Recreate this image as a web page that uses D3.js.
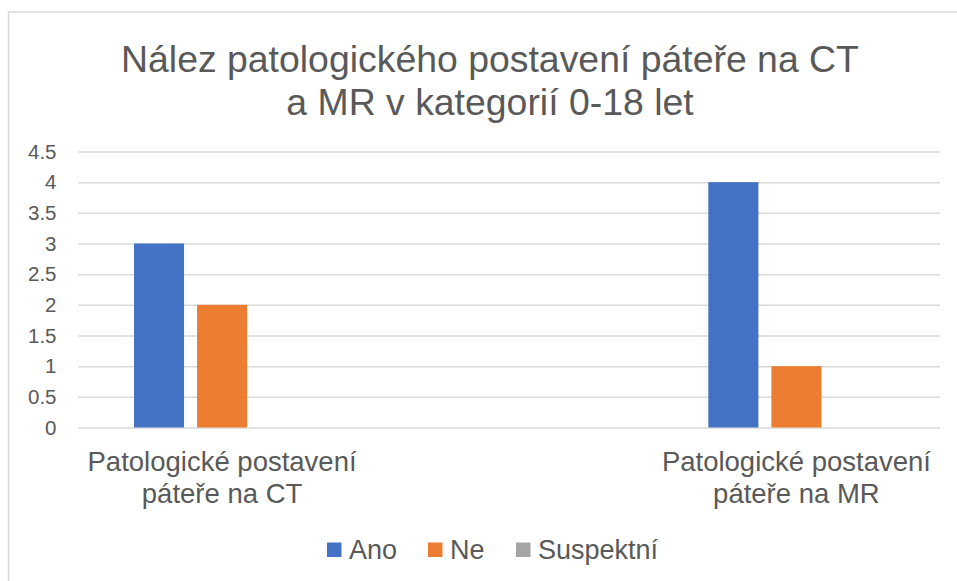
<!DOCTYPE html>
<html>
<head>
<meta charset="utf-8">
<script src="https://cdn.jsdelivr.net/npm/d3@7"></script>
<style>
	body { margin: 0; background: #fff; }
	svg { display: block; font-family: "Liberation Sans", Arial, sans-serif; }
</style>
</head>
<body>
<div id="chart"></div>
<script>
// Chart data
var titleLines = ["Nález patologického postavení páteře na CT", "a MR v kategorií 0-18 let"];
// middle category is blank in the original chart
var categories = ["Patologické postavení páteře na CT", "", "Patologické postavení páteře na MR"];
var seriesNames = ["Ano", "Ne", "Suspektní"];
var ano = [3, null, 4];
var ne = [2, null, 1];
var suspektni = [0, null, 0];
var yTicks = [0, 0.5, 1, 1.5, 2, 2.5, 3, 3.5, 4, 4.5];
var colors = ["#4472c4", "#ed7d31", "#a5a5a5"];

var width = 957, height = 581;
var margin = {top: 151.5, right: 17, bottom: 153.5, left: 78.5};
var chartWidth = width - margin.left - margin.right;
var chartHeight = height - margin.top - margin.bottom;

var svg = d3.select("#chart").append("svg")
	.attr("width", width)
	.attr("height", height);

svg.append("rect")
	.attr("x", 8.5).attr("y", 12)
	.attr("width", width).attr("height", height)
	.attr("fill", "#fff")
	.attr("stroke", "#d9d9d9")
	.attr("stroke-width", 1.5);

// Title
svg.append("text")
	.attr("x", 490)
	.attr("y", 72)
	.attr("text-anchor", "middle")
	.attr("fill", "#595959")
	.style("font-size", "37.4px")
	.selectAll("tspan")
	.data(titleLines)
	.join("tspan")
	.attr("x", 490)
	.attr("dy", (d, i) => i ? 43 : 0)
	.text(d => d);

var g = svg.append("g")
	.attr("transform", "translate(" + margin.left + "," + margin.top + ")");

var x0 = d3.scaleBand().domain(d3.range(categories.length)).range([0, chartWidth]);
var x1 = d3.scaleBand().domain(seriesNames)
	.range([0, x0.bandwidth()])
	.paddingInner(0.206)
	.paddingOuter(0.88);
var y = d3.scaleLinear().domain([0, 4.5]).range([chartHeight, 0]);

// Gridlines + y labels
var yAxis = d3.axisLeft(y).tickValues(yTicks).tickSize(-chartWidth).tickPadding(22).tickFormat(d3.format("~g"));
g.append("g")
	.call(yAxis)
	.call(s => s.select(".domain").remove())
	.call(s => s.selectAll("line").attr("stroke", "#d9d9d9").attr("stroke-width", 1.5))
	.call(s => s.selectAll("text").attr("fill", "#595959").style("font-size", "20.5px").style("font-family", "Liberation Sans, Arial, sans-serif"));

// Bars
var seriesValues = [ano, ne, suspektni];
var barData = [];
categories.forEach(function(c, ci) {
	seriesNames.forEach(function(s, si) {
		var v = seriesValues[si][ci];
		if (v !== null) barData.push({cat: ci, series: s, value: v, color: colors[si]});
	});
});

g.selectAll("rect.bar")
	.data(barData)
	.join("rect")
	.attr("class", "bar")
	.attr("x", d => x0(d.cat) + x1(d.series))
	.attr("y", d => y(d.value))
	.attr("width", x1.bandwidth())
	.attr("height", d => chartHeight - y(d.value))
	.attr("fill", d => d.color);

// Category labels (two lines each)
var catLabelLines = [["Patologické postavení", "páteře na CT"], [], ["Patologické postavení", "páteře na MR"]];
var catLabels = g.append("g").selectAll("text")
	.data(categories)
	.join("text")
	.attr("text-anchor", "middle")
	.attr("fill", "#595959")
	.style("font-size", "27.5px")
	.attr("y", chartHeight + 43);
catLabels.each(function(d, i) {
	d3.select(this).selectAll("tspan")
		.data(catLabelLines[i])
		.join("tspan")
		.attr("x", x0(i) + x0.bandwidth() / 2)
		.attr("dy", (t, j) => j ? 32 : 0)
		.text(t => t);
});

// Legend
var legendX = [327, 428, 516];
var legend = svg.append("g").selectAll("g")
	.data(seriesNames)
	.join("g")
	.attr("transform", (d, i) => "translate(" + legendX[i] + ",542.5)");
legend.append("rect")
	.attr("width", 14.5).attr("height", 14.5)
	.attr("fill", (d, i) => colors[i]);
legend.append("text")
	.attr("x", 22).attr("y", 16)
	.attr("fill", "#595959")
	.style("font-size", "27px")
	.text(d => d);
</script>
</body>
</html>
